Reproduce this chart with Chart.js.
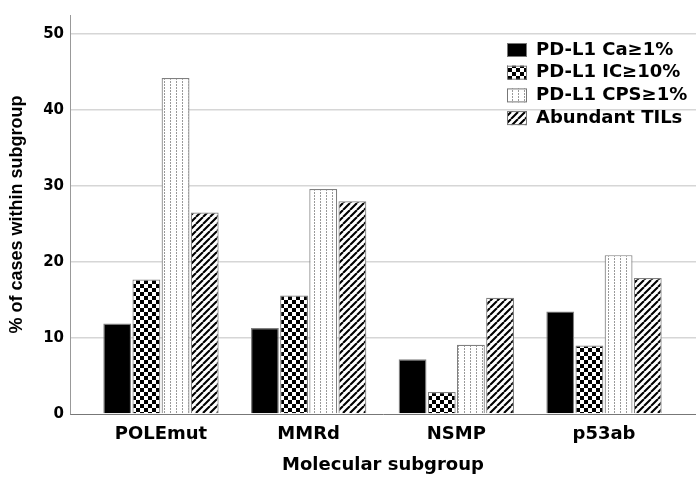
<!DOCTYPE html>
<html>
<head>
<meta charset="utf-8">
<script src="https://cdn.jsdelivr.net/npm/chart.js@4/dist/chart.umd.min.js"></script>
<style>
  html, body { margin: 0; padding: 0; background: #fff; }
  #wrap { width: 696px; height: 478px; position: relative; }
</style>
</head>
<body>
<div id="wrap"><canvas id="chart"></canvas></div>
<script>
const categories = ["POLEmut", "MMRd", "NSMP", "p53ab"];
const seriesLabels = ["PD-L1 Ca≥1%", "PD-L1 IC≥10%", "PD-L1 CPS≥1%", "Abundant TILs"];
const caValues = [11.9, 11.3, 7.2, 13.5];
const icValues = [17.7, 15.6, 2.9, 9.0];
const cpsValues = [44.2, 29.6, 9.1, 20.9];
const tilValues = [26.5, 28.0, 15.3, 17.9];
const yTicks = [0, 10, 20, 30, 40, 50];

const canvas = document.getElementById("chart");
const mainCtx = canvas.getContext("2d");

function makePattern(kind) {
  const c = document.createElement("canvas");
  const g = c.getContext("2d");
  if (kind === "checker") {
    c.width = c.height = 8;
    g.fillStyle = "#fff";
    g.fillRect(0, 0, 8, 8);
    g.fillStyle = "#000";
    g.fillRect(0, 0, 4, 4);
    g.fillRect(4, 4, 4, 4);
  } else if (kind === "dots") {
    c.width = 6;
    c.height = 3;
    g.fillStyle = "#fff";
    g.fillRect(0, 0, 6, 3);
    g.fillStyle = "#999";
    g.fillRect(2, 0, 1, 2);
  } else {
    c.width = c.height = 7;
    g.fillStyle = "#fff";
    g.fillRect(0, 0, 7, 7);
    g.strokeStyle = "#000";
    g.lineWidth = 2.1;
    g.beginPath();
    for (let k = -1; k <= 1; k++) {
      g.moveTo(k * 7, 7);
      g.lineTo(k * 7 + 7, 0);
    }
    g.stroke();
  }
  return mainCtx.createPattern(c, "repeat");
}

const fills = ["#000", makePattern("checker"), makePattern("dots"), makePattern("hatch")];
const seriesValues = [caValues, icValues, cpsValues, tilValues];

// side legend drawn at the top right like the original
const boxLegend = {
  id: "boxLegend",
  afterDraw(chart) {
    const ctx = chart.ctx;
    ctx.save();
    ctx.font = "bold 18px 'DejaVu Sans'";
    ctx.textBaseline = "middle";
    chart.data.datasets.forEach((ds, i) => {
      const y = 50 + i * 22.7;
      ctx.fillStyle = ds.backgroundColor;
      ctx.fillRect(507, y - 7, 20, 14);
      ctx.strokeStyle = "#777";
      ctx.lineWidth = 1;
      ctx.strokeRect(507.5, y - 6.5, 19, 13);
      ctx.fillStyle = "#000";
      ctx.fillText(ds.label, 536, y);
    });
    ctx.restore();
  }
};

new Chart(canvas, {
  type: "bar",
  data: {
    datasets: seriesLabels.map((label, i) => ({
      label: label,
      data: seriesValues[i].map((v, j) => ({ x: j, y: v })),
      backgroundColor: fills[i],
      borderColor: "#808080",
      borderWidth: 1.2,
      categoryPercentage: 0.79,
      barPercentage: 0.955
    }))
  },
  options: {
    responsive: true,
    maintainAspectRatio: false,
    animation: false,
    layout: { padding: { top: 12, right: 0, bottom: 0, left: 0 } },
    plugins: {
      legend: { display: false },
      tooltip: { enabled: false }
    },
    scales: {
      x: {
        type: "linear",
        offset: false,
        min: -0.616,
        max: 3.623,
        afterBuildTicks(axis) {
          axis.ticks = categories.map((c, i) => ({ value: i }));
        },
        afterFit(scale) {
          scale.height = 64;
        },
        grid: { display: false },
        border: { color: "#777", width: 1 },
        ticks: {
          callback: (v) => categories[v],
          color: "#000",
          font: { family: "DejaVu Sans", weight: "bold", size: 18 },
          padding: 2,
          maxRotation: 0
        },
        title: {
          display: true,
          text: "Molecular subgroup",
          color: "#000",
          font: { family: "DejaVu Sans", weight: "bold", size: 18 },
          padding: { top: 0, bottom: 2 }
        }
      },
      y: {
        min: 0,
        max: 52.5,
        afterBuildTicks(axis) {
          axis.ticks = yTicks.map((v) => ({ value: v }));
        },
        afterFit(scale) {
          scale.width = 70;
        },
        grid: {
          drawTicks: false,
          lineWidth: 1.5,
          color: (c) => (c.tick && c.tick.value === 0 ? "rgba(0,0,0,0)" : "#d6d6d6")
        },
        border: { color: "#999", width: 1 },
        ticks: {
          color: "#000",
          font: { family: "DejaVu Sans", weight: "bold", size: 15 },
          padding: 6
        },
        title: {
          display: true,
          text: "% of cases within subgroup",
          color: "#000",
          font: { family: "Liberation Sans", weight: "bold", size: 18 },
          padding: { top: 6, bottom: 0 }
        }
      }
    }
  },
  plugins: [boxLegend]
});
</script>
</body>
</html>
